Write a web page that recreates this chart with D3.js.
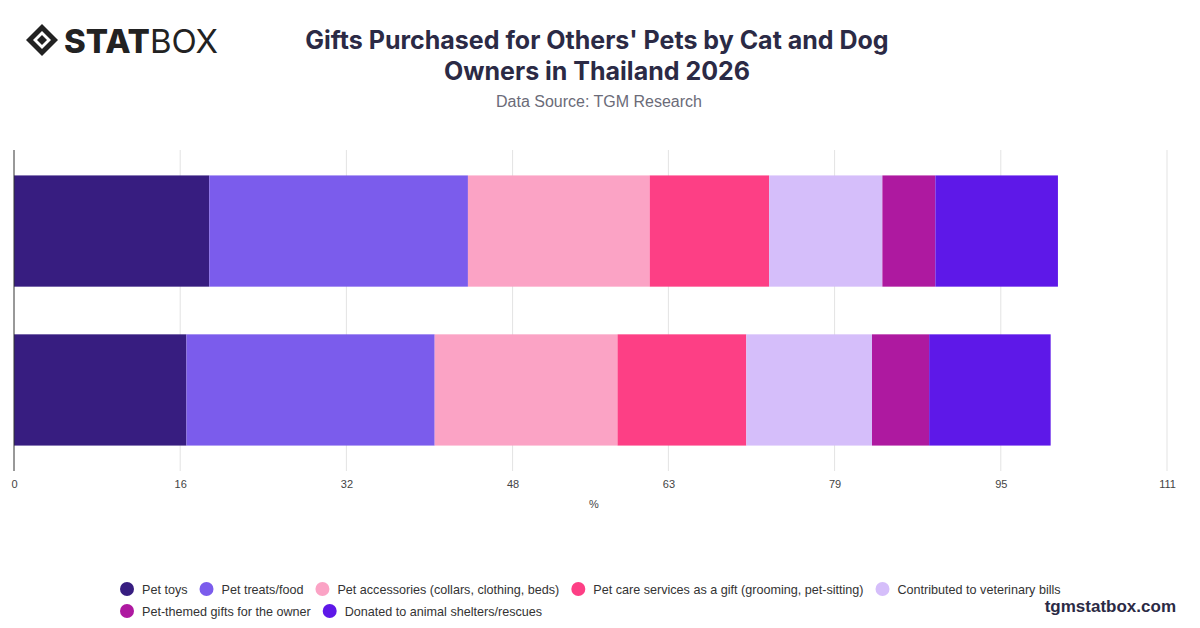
<!DOCTYPE html>
<html>
<head>
<meta charset="utf-8">
<script src="https://cdn.jsdelivr.net/npm/d3@7"></script>
<style>
  body { margin: 0; background: #fff; font-family: "Liberation Sans", Arial, sans-serif; }
</style>
</head>
<body>
<svg id="chart" width="1200" height="628"></svg>
<script>
// data
var groups = ["Group A", "Group B"];
var seriesNames = ["Pet toys", "Pet treats/food", "Pet accessories (collars, clothing, beds)",
  "Pet care services as a gift (grooming, pet-sitting)", "Contributed to veterinary bills",
  "Pet-themed gifts for the owner", "Donated to animal shelters/rescues"];
var seriesColors = ["#371d80", "#7b5cec", "#fba3c5", "#fd3f85", "#d5befa", "#ae19a0", "#5e18e8"];
var valuesA = [18.8, 24.9, 17.5, 11.5, 10.9, 5.1, 11.8];
var valuesB = [16.6, 23.9, 17.6, 12.4, 12.1, 5.5, 11.7];
var tickValues = [0, 16, 32, 48, 63, 79, 95, 111];

var svg = d3.select("#chart");
var x = d3.scaleLinear().domain([0, 111]).range([14, 1167]);
var y = d3.scaleBand().domain(groups).range([150, 471]).paddingInner(0.3).paddingOuter(0.16);

// title
svg.append("text").attr("x", 597).attr("y", 49).attr("text-anchor", "middle")
  .attr("font-size", 25).attr("font-weight", 700).attr("fill", "#2b2a45").attr("font-family", "Inter, sans-serif")
  .text("Gifts Purchased for Others' Pets by Cat and Dog");
svg.append("text").attr("x", 597).attr("y", 80).attr("text-anchor", "middle")
  .attr("font-size", 25).attr("font-weight", 700).attr("fill", "#2b2a45").attr("font-family", "Inter, sans-serif")
  .text("Owners in Thailand 2026");
svg.append("text").attr("x", 599).attr("y", 107).attr("text-anchor", "middle")
  .attr("font-size", 16).attr("fill", "#6b6b78").text("Data Source: TGM Research");

// logo
var logo = svg.append("g").attr("transform", "translate(26,24)");
logo.append("path").attr("d", "M16,0 L32,16 L16,32 L0,16 Z").attr("fill", "#222");
logo.append("path").attr("d", "M16,7 L25,16 L16,25 L7,16 Z").attr("fill", "#fff");
logo.append("path").attr("d", "M16,11 L21,16 L16,21 L11,16 Z").attr("fill", "#222");
logo.append("text").attr("x", 38).attr("y", 29).attr("font-size", 33).attr("font-weight", 800)
  .attr("fill", "#222").attr("font-family", "Inter, sans-serif").text("STAT")
  .append("tspan").attr("font-weight", 400).text("BOX");

// grid
svg.append("g").selectAll("line").data(tickValues.slice(1)).enter().append("line")
  .attr("x1", function (d) { return x(d); }).attr("x2", function (d) { return x(d); })
  .attr("y1", 150).attr("y2", 471).attr("stroke", "#e3e3e3");

// bars
var rows = [valuesA, valuesB];
rows.forEach(function (vals, gi) {
  var acc = 0;
  var segs = vals.map(function (v, i) { var s = { x0: acc, x1: acc + v, c: seriesColors[i] }; acc += v; return s; });
  svg.append("g").selectAll("rect").data(segs).enter().append("rect")
    .attr("x", function (d) { return x(d.x0); })
    .attr("width", function (d) { return x(d.x1) - x(d.x0); })
    .attr("y", y(groups[gi])).attr("height", y.bandwidth())
    .attr("fill", function (d) { return d.c; });
});

svg.append("line").attr("x1", 14).attr("x2", 14).attr("y1", 150).attr("y2", 471).attr("stroke", "#333");

// axis
var axis = svg.append("g").attr("transform", "translate(0,471)")
  .call(d3.axisBottom(x).tickValues(tickValues).tickSize(0).tickPadding(9));
axis.select(".domain").remove();
axis.selectAll("text").attr("font-size", 11).attr("fill", "#444").attr("font-family", "Liberation Sans, sans-serif");
svg.append("text").attr("x", 594).attr("y", 508).attr("text-anchor", "middle")
  .attr("font-size", 11).attr("fill", "#444").text("%");

// legend
var legendRows = [[0, 1, 2, 3, 4], [5, 6]];
legendRows.forEach(function (row, ri) {
  var lx = 120;
  row.forEach(function (i) {
    var g = svg.append("g").attr("transform", "translate(" + lx + "," + (589 + ri * 22) + ")");
    g.append("circle").attr("r", 7).attr("cx", 7).attr("fill", seriesColors[i]);
    var t = g.append("text").attr("x", 22).attr("y", 5).attr("font-size", 12.6).attr("fill", "#333")
      .text(seriesNames[i]);
    lx += 22 + t.node().getComputedTextLength() + 12;
  });
});

svg.append("text").attr("x", 1176).attr("y", 612).attr("text-anchor", "end")
  .attr("font-size", 17).attr("font-weight", 700).attr("fill", "#2b2a45").text("tgmstatbox.com");
</script>
</body>
</html>
